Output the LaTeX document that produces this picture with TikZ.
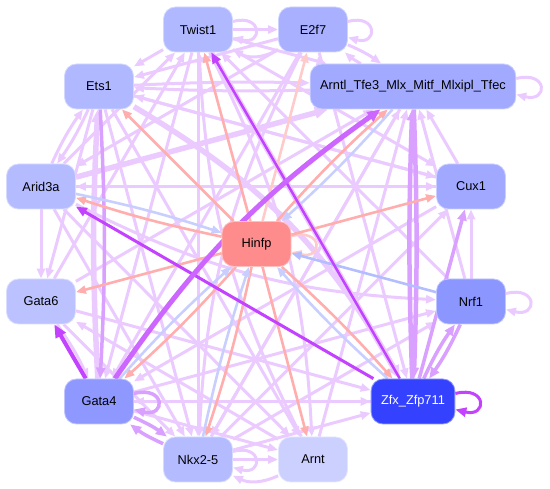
\documentclass[tikz,border=0pt]{standalone}
\usepackage{fontspec}
\setmainfont{Liberation Sans}
\usetikzlibrary{arrows.meta}
\pgfdeclarelayer{edges}
\pgfsetlayers{edges,main}

\definecolor{twistcol}{HTML}{B0B8FF}
\definecolor{etwocol}{HTML}{A8B0FF}
\definecolor{etscol}{HTML}{B0B8FF}
\definecolor{arntlcol}{HTML}{A2AAFF}
\definecolor{aridcol}{HTML}{B4BCFF}
\definecolor{cuxcol}{HTML}{A0A8FF}
\definecolor{hinfpcol}{HTML}{FF8C8C}
\definecolor{gsixcol}{HTML}{BCC2FF}
\definecolor{nrfcol}{HTML}{8C96FF}
\definecolor{gfourcol}{HTML}{8E98FF}
\definecolor{zfxcol}{HTML}{3442FF}
\definecolor{nkxcol}{HTML}{B4BCFF}
\definecolor{arntcol}{HTML}{CCD0FF}
\definecolor{weakvio}{HTML}{EBCBFF}
\definecolor{midvio}{HTML}{D9A0FF}
\definecolor{strongvio}{HTML}{C342FF}
\definecolor{widevio}{HTML}{CC66FF}
\definecolor{salmon}{HTML}{FFADAD}
\definecolor{palesalmon}{HTML}{FFCACA}
\definecolor{paleblue}{HTML}{C8CFFF}
\definecolor{midblue}{HTML}{B4BEFF}

\begin{document}
\begin{tikzpicture}[x=1pt, y=1pt,
        tf_box/.style={draw=#1!55!white, fill=#1, line width=0.8pt, rounded corners=12pt, minimum width=69pt, minimum height=45pt, inner xsep=10pt, font=\fontsize{12.8}{15}\selectfont},
        weak_edge/.style={draw=weakvio, line width=3pt, -{Triangle[length=10pt,width=8pt]}},
        wide_edge/.style={weak_edge, line width=5.5pt, -{Triangle[length=13pt,width=11pt]}},
        mid_edge/.style={draw=midvio, line width=3.5pt, -{Triangle[length=11pt,width=9pt]}},
        strong_edge/.style={draw=strongvio, line width=3pt, -{Triangle[length=11pt,width=9pt]}},
        up_edge/.style={draw=salmon, line width=2.6pt, -{Triangle[length=10pt,width=8pt]}},
        down_edge/.style={draw=paleblue, line width=2.6pt, -{Triangle[length=10pt,width=8pt]}}
    ]
        \useasboundingbox (0,0) rectangle (550,-489);

        % Nodes
        \node[tf_box=twistcol] (twist) at (198,-29.5) {Twist1};
        \node[tf_box=etwocol] (e2f7) at (313,-29.5) {E2f7};
        \node[tf_box=etscol] (ets) at (99,-86.5) {Ets1};
        \node[tf_box=arntlcol] (arntl) at (413,-86.5) {Arntl\_Tfe3\_Mlx\_Mitf\_Mlxipl\_Tfec};
        \node[tf_box=aridcol] (arid) at (41,-186.5) {Arid3a};
        \node[tf_box=cuxcol] (cux) at (471,-186.5) {Cux1};
        \node[tf_box=hinfpcol] (hinfp) at (256.5,-244) {Hinfp};
        \node[tf_box=gsixcol] (gatasix) at (41,-301.5) {Gata6};
        \node[tf_box=nrfcol] (nrf) at (471,-301.5) {Nrf1};
        \node[tf_box=gfourcol] (gatafour) at (99,-401.5) {Gata4};
        \node[tf_box=zfxcol, text=white] (zfx) at (413,-401.5) {Zfx\_Zfp711};
        \node[tf_box=nkxcol] (nkx) at (198,-459.5) {Nkx2-5};
        \node[tf_box=arntcol] (arnt) at (313,-459.5) {Arnt};

        \begin{pgfonlayer}{edges}
        % Weak links
        \draw[weak_edge] (twist) -- (ets);
        \draw[weak_edge] (twist) -- (gatafour);
        \draw[weak_edge] (twist) -- (nkx);
        \draw[weak_edge] (twist) to[bend left=12] (arnt);
        \draw[weak_edge] (twist) -- (cux);
        \draw[weak_edge] (twist) -- (arntl);
        \draw[weak_edge] (twist) -- (e2f7);
        \draw[weak_edge] (e2f7) to[bend left=30] (twist);
        \draw[weak_edge] (e2f7) to[bend left=6] (arntl);
        \draw[weak_edge] (arntl) to[bend left=6] (e2f7);
        \draw[weak_edge] (e2f7) -- (gatafour);
        \draw[weak_edge] (e2f7) to[bend right=12] (nkx);
        \draw[weak_edge] (e2f7) -- (zfx);
        \draw[weak_edge] (e2f7) -- (ets);
        \draw[weak_edge] (e2f7) -- (arid);
        \draw[weak_edge] (ets) to[bend left=2] (arntl);
        \draw[weak_edge] (ets) -- (cux);
        \draw[weak_edge] (ets) -- (nkx);
        \draw[weak_edge] (ets) -- (gatasix);
        \draw[weak_edge] (ets) to[bend left=5] (arid);
        \draw[weak_edge] (arid) to[bend left=5] (ets);
        \draw[weak_edge] (ets) -- (arnt);
        \draw[weak_edge] (arid) -- (cux);
        \draw[weak_edge] (arid) to[bend right=12] (nrf);
        \draw[weak_edge] (arid) -- (gatasix);
        \draw[weak_edge] (arid) -- (nkx);
        \draw[weak_edge] (arid) -- (arnt);
        \draw[weak_edge] (arid) -- (twist);
        \draw[weak_edge] (gatasix) to[bend left=5] (gatafour);
        \draw[weak_edge] (gatasix) -- (zfx);
        \draw[weak_edge] (gatasix) -- (nkx);
        \draw[weak_edge] (gatasix) -- (arntl);
        \draw[weak_edge] (gatasix) -- (twist);
        \draw[weak_edge] (arntl) to[bend left=2] (ets);
        \draw[weak_edge] (arntl) -- (nkx);
        \draw[weak_edge] (cux) -- (arntl);
        \draw[weak_edge] (cux) -- (ets);
        \draw[weak_edge] (cux) -- (gatafour);
        \draw[weak_edge] (cux) -- (arid);
        \draw[weak_edge] (nrf) -- (cux);
        \draw[weak_edge] (nrf) -- (arntl);
        \draw[weak_edge] (nrf) -- (twist);
        \draw[weak_edge] (gatafour) -- (nrf);
        \draw[weak_edge] (gatafour) -- (zfx);
        \draw[weak_edge] (gatafour) -- (arnt);
        \draw[weak_edge] (nkx) -- (nrf);
        \draw[weak_edge] (nkx) -- (cux);
        \draw[weak_edge] (nkx) -- (arntl);
        \draw[weak_edge] (nkx) -- (zfx);
        \draw[weak_edge] (nkx) -- (arnt);
        \draw[weak_edge] (arnt) to[bend left=25] (nkx);
        \draw[weak_edge] (arnt) to[bend left=12] (twist);
        \draw[weak_edge] (arnt) -- (arntl);
        \draw[weak_edge] (arnt) -- (gatasix);
        \draw[weak_edge] (zfx) -- (gatafour);

        % Wide weak links
        \draw[wide_edge] (arid) -- (arntl);
        \draw[wide_edge] (twist) -- (zfx);
        \draw[wide_edge] (ets) to[bend left=15] (zfx);
        \draw[wide_edge] (gatafour) to[bend left=3] (ets);

        % Self loops
        \draw[weak_edge] ([yshift=8pt]twist.east) .. controls +(30pt,8pt) and +(30pt,-8pt) .. ([yshift=-8pt]twist.east);
        \draw[weak_edge] ([yshift=8pt]e2f7.east) .. controls +(30pt,8pt) and +(30pt,-8pt) .. ([yshift=-8pt]e2f7.east);
        \draw[weak_edge] ([yshift=8pt]arntl.east) .. controls +(32pt,8pt) and +(32pt,-8pt) .. ([yshift=-8pt]arntl.east);
        \draw[weak_edge] ([yshift=8pt]nrf.east) .. controls +(32pt,8pt) and +(32pt,-8pt) .. ([yshift=-8pt]nrf.east);
        \draw[weak_edge] ([yshift=8pt]nkx.east) .. controls +(30pt,8pt) and +(30pt,-8pt) .. ([yshift=-8pt]nkx.east);
        \draw[mid_edge] ([yshift=8pt]gatafour.east) .. controls +(32pt,8pt) and +(32pt,-8pt) .. ([yshift=-8pt]gatafour.east);
        \draw[strong_edge] ([yshift=8pt]zfx.east) .. controls +(32pt,8pt) and +(32pt,-8pt) .. ([yshift=-8pt]zfx.east);
        \draw[up_edge, draw=palesalmon] ([yshift=8pt]hinfp.east) .. controls +(32pt,8pt) and +(32pt,-8pt) .. ([yshift=-8pt]hinfp.east);

        % Medium links
        \draw[mid_edge] (gatafour) to[bend left=6] (nkx);
        \draw[mid_edge] (nkx) to[bend left=6] (gatafour);
        \draw[mid_edge] (nrf) to[bend left=5] (zfx);
        \draw[mid_edge] (zfx) to[bend left=5] (nrf);
        \draw[mid_edge] (zfx) -- (cux);
        \draw[mid_edge, line width=4.5pt] (arntl) to[bend left=2] (zfx);
        \draw[mid_edge, line width=4.5pt] (zfx) to[bend left=2] (arntl);
        \draw[mid_edge] (ets) to[bend left=3] (gatafour);

        % Hinfp out (salmon) and in (blue)
        \draw[up_edge] (hinfp) -- (twist);
        \draw[up_edge, draw=palesalmon] (hinfp) -- (e2f7);
        \draw[up_edge] (hinfp) -- (ets);
        \draw[up_edge] (hinfp) to[bend left=3] (arid);
        \draw[up_edge] (hinfp) -- (gatasix);
        \draw[up_edge] (hinfp) to[bend left=3] (gatafour);
        \draw[up_edge] (hinfp) to[bend left=3] (nkx);
        \draw[up_edge] (hinfp) -- (arnt);
        \draw[up_edge] (hinfp) to[bend left=3] (zfx);
        \draw[up_edge] (hinfp) -- (cux);
        \draw[up_edge] (hinfp) to[bend left=3] (arntl);
        \draw[down_edge] (arntl) to[bend left=3] (hinfp);
        \draw[down_edge] (arid) to[bend left=3] (hinfp);
        \draw[down_edge] (gatafour) to[bend left=3] (hinfp);
        \draw[down_edge] (nkx) to[bend left=3] (hinfp);
        \draw[down_edge] (zfx) to[bend left=3] (hinfp);
        \draw[down_edge, draw=midblue] (nrf) -- (hinfp);

        % Strong links
        \draw[strong_edge, line width=4pt, -{Triangle[length=13pt,width=11pt]}] (gatafour) -- (gatasix);
        \draw[strong_edge] (zfx) -- (arid);
        \draw[strong_edge, line width=2.5pt] (zfx) -- (twist);
        \draw[strong_edge, draw=widevio, line width=5pt, -{Triangle[length=13pt,width=11pt]}] (gatafour) to[bend left=10] (arntl);
        \end{pgfonlayer}
    \end{tikzpicture}
\end{document}
